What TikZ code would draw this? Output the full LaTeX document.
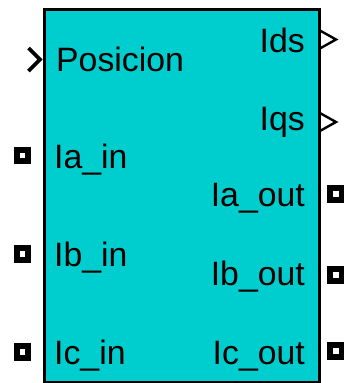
\documentclass[tikz,border=0pt]{standalone}
\usepackage{fontspec}
\setmainfont{Liberation Sans}
\definecolor{blockcyan}{RGB}{0,206,206}
\begin{document}
\begin{tikzpicture}[x=1pt,y=-1pt,
  lbl/.style={inner sep=0pt,font=\fontsize{33.8}{40}\selectfont},
  sqport/.style={draw=black,fill=white,line width=5.8pt,minimum size=11.5pt,inner sep=0pt,rectangle},
  inchev/.style={draw=black,line width=3.6pt,miter limit=10},
  outchev/.style={draw=black,line width=2.4pt}]
\useasboundingbox (0,0) rectangle (343,383);
\node[draw=black,fill=blockcyan,line width=3.3pt,minimum width=274.5pt,minimum height=373.5pt,inner sep=0pt,anchor=north west] (blk) at (43,7.5) {};
% labels
\node[lbl,anchor=base west] (pos) at (56,71) {Posicion};
\node[lbl,anchor=base west] (iain) at (54,168) {Ia\_in};
\node[lbl,anchor=base west] (ibin) at (54,266) {Ib\_in};
\node[lbl,anchor=base west] (icin) at (54,364) {Ic\_in};
\node[lbl,anchor=base east] (ids) at (305,52) {Ids};
\node[lbl,anchor=base east] (iqs) at (305,130) {Iqs};
\node[lbl,anchor=base east] (iaout) at (305,206) {Ia\_out};
\node[lbl,anchor=base east] (ibout) at (305,285) {Ib\_out};
\node[lbl,anchor=base east] (icout) at (305,364) {Ic\_out};
% square ports
\node[sqport] (pa) at (22.5,155.5) {};
\node[sqport] (pb) at (22.5,254) {};
\node[sqport] (pc) at (22.5,352) {};
\node[sqport] (qa) at (336,194) {};
\node[sqport] (qb) at (336,275) {};
\node[sqport] (qc) at (336,351) {};
% chevron ports
\coordinate (posin) at (40,59.5);
\draw[inchev] (28.5,48) -- (posin) -- (28.5,71);
\coordinate (idsout) at (336,39.5);
\draw[outchev] (319,30) -- (idsout) -- (319,49);
\coordinate (iqsout) at (336,122);
\draw[outchev] (319,112.5) -- (iqsout) -- (319,131.5);
\end{tikzpicture}
\end{document}
